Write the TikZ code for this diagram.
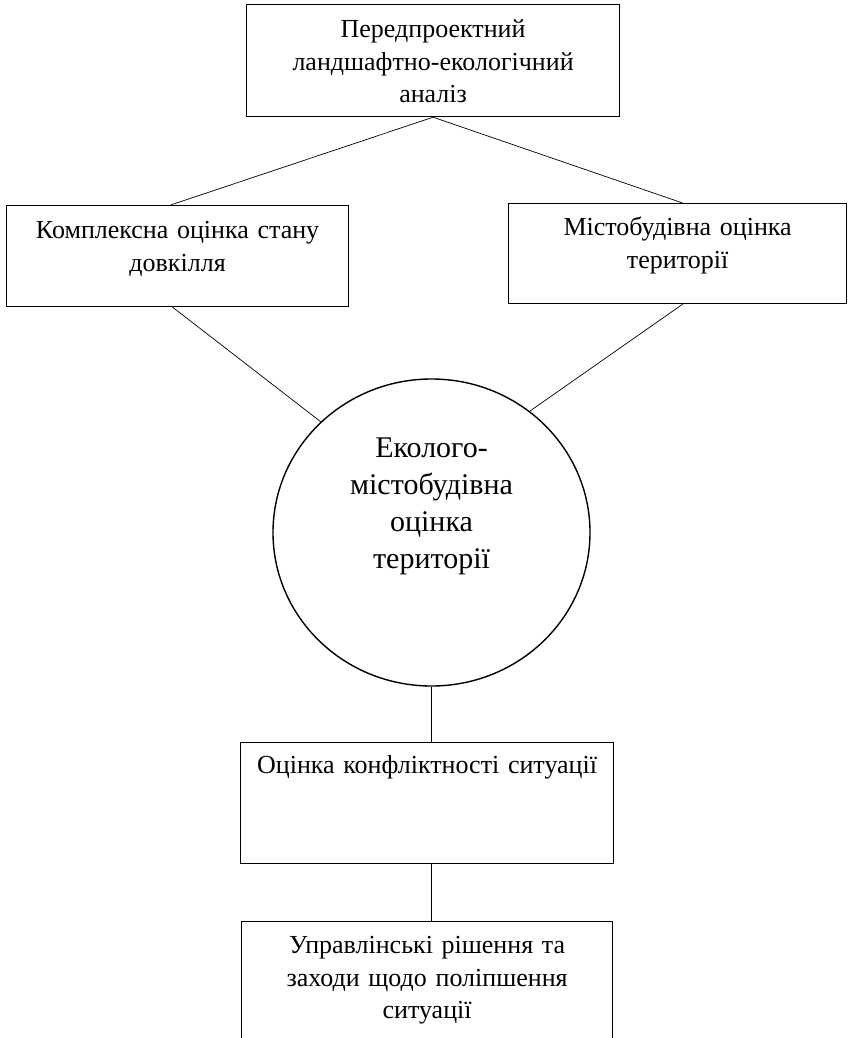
\documentclass[tikz,border=0pt]{standalone}
\usepackage{fontspec}
\setmainfont{Liberation Serif}
\usetikzlibrary{shapes.geometric}

\begin{document}
\begin{tikzpicture}[x=1pt, y=-1pt,
  blk/.style={draw, line width=1.2pt, inner xsep=4pt, inner ysep=0pt, anchor=north west, align=center, font=\fontsize{26}{32.5}\selectfont},
  hub/.style={ellipse, draw, line width=1.4pt, inner sep=0pt, align=center, text width=220pt, minimum width=317pt, minimum height=307pt, font=\fontsize{30}{37}\selectfont},
  ln/.style={line width=0.7pt}]
\useasboundingbox (0,0) rectangle (847,1038);

\node[blk, minimum width=373pt, text width=360pt, text height=33pt, text depth=79pt] at (246,4) (pre) {Передпроектний\\ ландшафтно-екологічний\\ аналіз};

\node[blk, minimum width=342pt, text width=330pt, text height=33pt, text depth=68pt] at (6,205) (lft) {Комплексна оцінка стану\\ довкілля};
\node[blk, minimum width=338pt, text width=326pt, text height=32pt, text depth=68pt] at (508,203) (rgt) {Містобудівна оцінка\\ території};

\node[hub, text height=30pt, text depth=181pt] at (431.5,532.5) (hub) {Еколого-\\ містобудівна\\ оцінка\\ території};

\node[blk, minimum width=373pt, text width=360pt, text height=31pt, text depth=90pt] at (240,742) (cnf) {Оцінка конфліктності ситуації};
\node[blk, minimum width=371pt, text width=358pt, text height=32pt, text depth=130pt] at (241,921) (dec) {Управлінські рішення та\\ заходи щодо поліпшення\\ ситуації};

\draw[ln] (pre.south) -- ([xshift=-7pt]lft.north);
\draw[ln] (pre.south) -- ([xshift=5pt]rgt.north);
\draw[ln] ([xshift=-5pt]lft.south) -- (hub.135);
\draw[ln] ([xshift=5pt]rgt.south) -- (hub.51);
\draw[ln] (hub.south) -- (hub.south |- cnf.north);
\draw[ln] (hub.south |- cnf.south) -- (hub.south |- dec.north);
\end{tikzpicture}
\end{document}
